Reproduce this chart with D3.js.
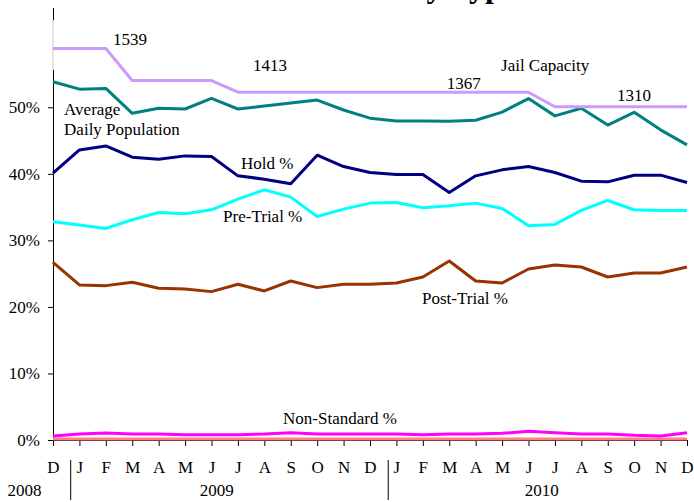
<!DOCTYPE html>
<html>
<head>
<meta charset="utf-8">
<script src="https://cdn.jsdelivr.net/npm/d3@7"></script>
<style>
body { margin: 0; background: #fff; }
text { font-family: "Liberation Serif", "Times New Roman", serif; fill: #000; }
</style>
</head>
<body>
<script>
// month ticks, Dec 2008 .. Dec 2010
let months = ["D","J","F","M","A","M","J","J","A","S","O","N","D",
              "J","F","M","A","M","J","J","A","S","O","N","D"];
let years = [
    {label: "2008", at: -1.08},
    {label: "2009", at: 6.2},
    {label: "2010", at: 18.5}
];
let yearBreaks = [0.67, 12.69];

// inmate counts (right hand scale, not drawn)
let jailCapacity = [1539,1539,1539,1413,1413,1413,1413,1367,1367,1367,1367,1367,1367,
                    1367,1367,1367,1367,1367,1367,1310,1310,1310,1310,1310,1310];
let avgDailyPop = [1408,1379,1382,1284,1304,1301,1343,1301,1313,1325,1336,1297,1265,
                   1254,1254,1253,1257,1289,1342,1274,1304,1238,1288,1219,1160];

// percentages
let holdPct = [40.1,43.6,44.2,42.5,42.2,42.7,42.6,39.7,39.2,38.5,42.8,41.1,40.2,
               39.9,39.9,37.2,39.7,40.6,41.1,40.2,38.9,38.8,39.8,39.8,38.7];
let preTrialPct = [32.8,32.3,31.8,33.1,34.2,34.0,34.6,36.2,37.6,36.5,33.6,34.7,35.6,
                   35.7,34.9,35.2,35.6,34.8,32.2,32.4,34.5,36.0,34.6,34.5,34.5];
let postTrialPct = [26.7,23.3,23.2,23.7,22.8,22.7,22.3,23.4,22.4,23.9,22.9,23.4,23.4,
                    23.6,24.5,26.9,23.9,23.6,25.7,26.3,26.0,24.5,25.1,25.1,26.0];
let nonStandardPct = [0.6,0.9,1.05,0.9,0.9,0.8,0.8,0.8,0.9,1.1,0.9,0.9,0.9,
                      0.9,0.8,0.9,0.9,1.0,1.3,1.1,0.9,0.9,0.7,0.6,1.1];
let otherPct = [0.15,0.15,0.15,0.15,0.15,0.15,0.15,0.15,0.15,0.15,0.15,0.15,0.15,
                0.15,0.15,0.15,0.15,0.15,0.15,0.15,0.15,0.15,0.15,0.15,0.15];

let yTicks = [0, 0.1, 0.2, 0.3, 0.4, 0.5];

// text labels, placed at (month index, percent)
let labels = [
    {text: "1539", i: 2.27, v: 59.36},
    {text: "1413", i: 7.57, v: 55.46},
    {text: "1367", i: 14.91, v: 52.75},
    {text: "Jail Capacity", i: 16.96, v: 55.46},
    {text: "1310", i: 21.35, v: 50.95},
    {text: "Average", i: 0.42, v: 48.84},
    {text: "Daily Population", i: 0.42, v: 45.84},
    {text: "Hold %", i: 7.12, v: 40.73},
    {text: "Pre-Trial %", i: 6.44, v: 32.76},
    {text: "Post-Trial %", i: 13.97, v: 20.44},
    {text: "Non-Standard %", i: 8.71, v: 2.40}
];

let width = 694, height = 502;

let svg = d3.select("body").append("svg")
    .attr("width", width)
    .attr("height", height);

// scales
let x = d3.scaleLinear().domain([0, 24]).range([53, 687]);
let y = d3.scaleLinear().domain([0, 0.65]).range([440, 7.5]);
let yCount = d3.scaleLinear().domain([0, 1700]).range([440, y(0.65 * 0)]);
yCount.range([y(0), y(0.65)]);

// title (mostly above the page edge)
svg.append("text")
    .attr("x", 517)
    .attr("y", -3)
    .attr("text-anchor", "end")
    .style("font-size", "32px")
    .style("font-weight", "bold")
    .text("Inmate Status by Type");

// y axis
let yAxis = svg.append("g")
    .attr("transform", `translate(${x(0)},0)`)
    .call(d3.axisLeft(y)
        .tickValues(yTicks)
        .tickFormat(d3.format(".0%"))
        .tickSize(5)
        .tickPadding(8)
        .tickSizeOuter(0));
yAxis.selectAll("text").style("font-size", "17px");
yAxis.select(".domain").attr("stroke", "#000");

// the axis is hidden behind a box near the top
svg.append("line")
    .attr("x1", x(0)).attr("x2", x(0))
    .attr("y1", y(0.631)).attr("y2", y(0.556))
    .attr("stroke", "#e4e4e4")
    .attr("stroke-width", 2);

// x axis
let xAxis = svg.append("g")
    .attr("transform", `translate(0,${y(0)})`)
    .call(d3.axisBottom(x)
        .tickValues(d3.range(months.length))
        .tickFormat(i => months[i])
        .tickSize(6)
        .tickPadding(15)
        .tickSizeOuter(0));
xAxis.selectAll("text").style("font-size", "17px");

svg.selectAll(".yearBreak")
    .data(yearBreaks)
    .join("line")
    .attr("class", "yearBreak")
    .attr("x1", d => x(d)).attr("x2", d => x(d))
    .attr("y1", 460).attr("y2", 500)
    .attr("stroke", "#000");

svg.selectAll(".year")
    .data(years)
    .join("text")
    .attr("class", "year")
    .attr("x", d => x(d.at))
    .attr("y", 496)
    .attr("text-anchor", "middle")
    .style("font-size", "17px")
    .text(d => d.label);

// lines
let series = [
    {values: otherPct, color: "#ff8080", pct: true},
    {values: nonStandardPct, color: "#ff00ff", pct: true},
    {values: postTrialPct, color: "#993300", pct: true},
    {values: preTrialPct, color: "#00ffff", pct: true},
    {values: holdPct, color: "#000080", pct: true},
    {values: avgDailyPop, color: "#008080", pct: false},
    {values: jailCapacity, color: "#cc99ff", pct: false}
];

series.forEach(s => {
    let line = d3.line()
        .x((d, i) => x(i))
        .y(d => s.pct ? y(d / 100) : yCount(d));
    svg.append("path")
        .datum(s.values)
        .attr("d", line)
        .attr("fill", "none")
        .attr("stroke", s.color)
        .attr("stroke-width", 3)
        .attr("stroke-linejoin", "round");
});

svg.selectAll(".label")
    .data(labels)
    .join("text")
    .attr("class", "label")
    .attr("x", d => x(d.i))
    .attr("y", d => y(d.v / 100))
    .style("font-size", "17px")
    .text(d => d.text);
</script>
</body>
</html>
